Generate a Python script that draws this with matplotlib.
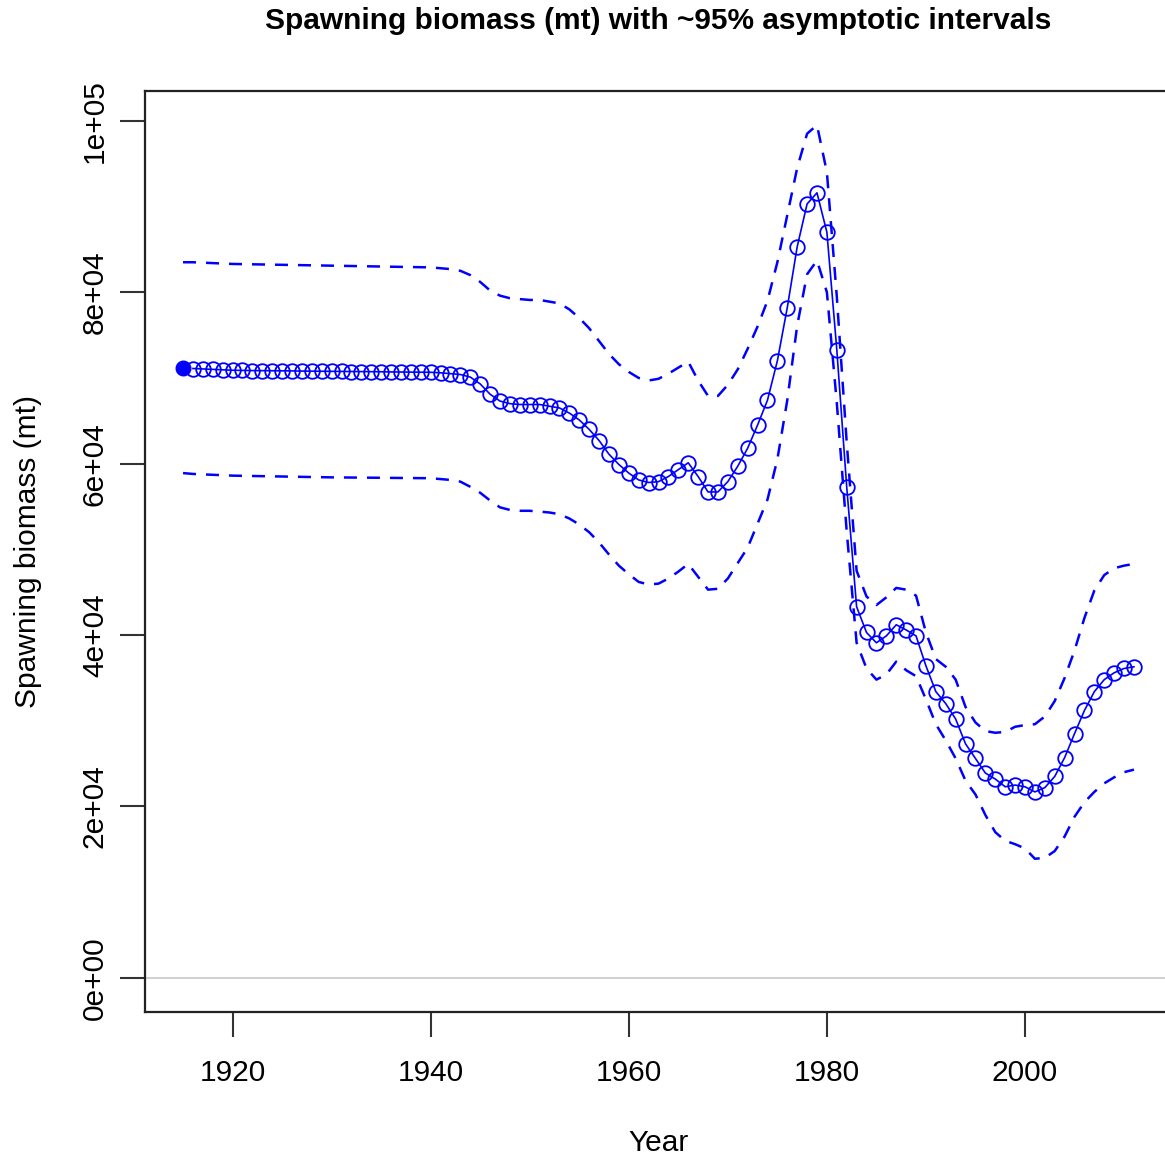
import matplotlib
matplotlib.use("Agg")
import matplotlib.pyplot as plt
import numpy as np

plt.rcParams['font.family'] = ['Liberation Sans', 'DejaVu Sans']

years = np.arange(1915, 2012)

# spawning biomass (mt)
sb = [71200, 71100, 71050, 71000, 70950, 70900, 70880, 70860, 70850, 70840,
      70830, 70820, 70800, 70790, 70780, 70770, 70760, 70750, 70740, 70730,
      70720, 70700, 70690, 70680, 70670, 70660, 70600, 70500, 70400, 70100,
      69300, 68100, 67300, 67000, 66900, 66900, 66900, 66700, 66500, 65900,
      65100, 64000, 62700, 61100, 59900, 58900, 58100, 57800, 57900, 58500,
      59300, 60100, 58500, 56700, 56700, 57900, 59700, 61800, 64500, 67400,
      72000, 78200, 85300, 90300, 91600, 87000, 73300, 57300, 43300, 40300,
      39100, 39900, 41200, 40600, 39900, 36400, 33400, 32000, 30200, 27300,
      25600, 23900, 23200, 22300, 22500, 22300, 21700, 22200, 23500, 25700,
      28500, 31200, 33400, 34800, 35600, 36100, 36300]

upper = [83500, 83500, 83450, 83400, 83350, 83300, 83280, 83260, 83240, 83220,
         83200, 83180, 83160, 83140, 83120, 83100, 83080, 83060, 83040, 83020,
         83000, 82980, 82960, 82940, 82920, 82900, 82800, 82700, 82500, 82000,
         81200, 80200, 79600, 79300, 79200, 79100, 79100, 78900, 78700, 78000,
         77000, 75800, 74300, 72800, 71600, 70700, 70000, 69700, 69900, 70500,
         71200, 71900, 69700, 67900, 67900, 69200, 71000, 73400, 76000, 79000,
         83500, 89000, 94500, 98500, 99500, 94000, 79500, 62500, 47500, 44500,
         43500, 44400, 45500, 45300, 44600, 40300, 37200, 36300, 34800, 31600,
         29800, 28800, 28600, 28700, 29300, 29500, 29600, 30500, 32300, 35000,
         38200, 42000, 45200, 47000, 47800, 48100, 48300]

lower = [58900, 58800, 58750, 58700, 58650, 58600, 58580, 58560, 58540, 58520,
         58500, 58480, 58460, 58440, 58420, 58400, 58390, 58380, 58370, 58360,
         58350, 58340, 58330, 58320, 58310, 58300, 58200, 58100, 57900, 57300,
         56600, 55700, 54900, 54600, 54500, 54500, 54400, 54300, 54100, 53600,
         52900, 52000, 50800, 49400, 48100, 47100, 46200, 45900, 46000, 46600,
         47400, 48300, 46800, 45300, 45400, 46600, 48400, 50200, 53000, 55800,
         60500, 67400, 76100, 82100, 83700, 80000, 67100, 52100, 39100, 36100,
         34800, 35400, 36900, 35900, 35200, 32500, 29600, 27700, 25600, 23000,
         21400, 19000, 17000, 16000, 15600, 15100, 13900, 14000, 14800, 16500,
         18800, 20500, 21700, 22700, 23400, 24000, 24300]

fig = plt.figure(figsize=(11.65, 11.59), dpi=100)
ax = fig.add_axes([145/1165, 147/1159, 1027/1165, 921/1159])

ax.axhline(0, color='#c8c8c8', lw=1.2, zorder=1)
ax.plot(years, upper, color='blue', lw=1.8, dashes=(5.2, 4))
ax.plot(years, lower, color='blue', lw=1.8, dashes=(5.2, 4))
ax.plot(years[1:], sb[1:], color='blue', lw=1.2, marker='o', ms=10.5,
        mfc='none', mec='blue', mew=1.3)
ax.plot(years[0], sb[0], 'o', color='blue', ms=10.5)

ax.set_xlim(1911.16, 2014.84)
ax.set_ylim(-3980, 103480)
ax.set_xticks([1920, 1940, 1960, 1980, 2000])
yt = [0, 20000, 40000, 60000, 80000, 100000]
ax.set_yticks(yt)
ax.set_yticklabels(['0e+00', '2e+04', '4e+04', '6e+04', '8e+04', '1e+05'],
                   rotation=90, va='center')
ax.tick_params(length=18, width=1.5, color='#333333', labelsize=21.5)
ax.tick_params(axis='x', pad=16)
ax.tick_params(axis='y', pad=8)
for s in ax.spines.values():
    s.set_color('#222222')
    s.set_linewidth(1.6)

ax.set_xlabel('Year', fontsize=21.5, labelpad=30)
ax.set_ylabel('Spawning biomass (mt)', fontsize=21.5, labelpad=28)
fig.text(658/1165, 1 - 21/1159, 'Spawning biomass (mt) with ~95% asymptotic intervals',
         ha='center', va='center', fontsize=21.5, fontweight='bold')

fig.savefig('out.png', dpi=100)
